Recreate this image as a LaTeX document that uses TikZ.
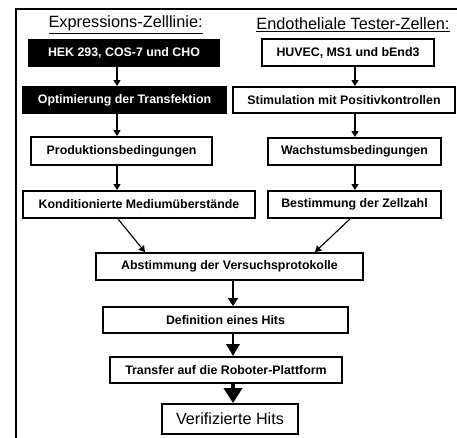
\documentclass[tikz,border=0pt]{standalone}
\usepackage{fontspec}
\setmainfont{Liberation Sans}
\usepackage{tikz}
\usetikzlibrary{arrows.meta, positioning, calc}

\begin{document}
\begin{tikzpicture}[
        step_box/.style={rectangle, draw, line width=1.3pt, inner sep=0pt, minimum height=0.675cm, font=\fontsize{8.8}{10}\selectfont\bfseries},
        dark_box/.style={step_box, fill=black, text=white},
        title_text/.style={font=\fontsize{11.6}{13}\selectfont},
        flow/.style={-{Triangle[length=4.3pt, width=5pt]}, line width=0.8pt, black},
        merge/.style={-{Triangle[length=5.7pt, width=7pt]}, line width=2.1pt, black},
        merge_big/.style={-{Triangle[length=8.5pt, width=9.2pt]}, line width=2.1pt, black},
        merge_huge/.style={-{Triangle[length=10.7pt, width=12.8pt]}, line width=2.8pt, black}
    ]
    \useasboundingbox (0,0) rectangle (11.425,10.95);

    % --- Frame ---
    \draw[line width=1.9pt] (0.4,0) -- (0.4,10.725) -- (11.6,10.725);

    % --- Left: Expression cell lines ---
    \node[title_text] (t_expr) at (3.14,10.325) {\underline{Expressions-Zelllinie:}};
    \node[dark_box, minimum width=4.75cm] (hek) at (3.1,9.625) {HEK 293, COS-7 und CHO};
    \node[dark_box, minimum width=5.075cm, minimum height=0.65cm] (transf) at (3.1125,8.45) {Optimierung der Transfektion};
    \node[step_box, minimum width=4.525cm, minimum height=0.7cm] (prod) at (3.04,7.175) {Produktionsbedingungen};
    \node[step_box, minimum width=5.8cm] (medium) at (3.475,5.8375) {Konditionierte Mediumüberstände};
    \coordinate (lcol) at (2.925,0);

    \draw[flow] (hek.south -| lcol) -- (transf.north -| lcol);
    \draw[flow] (transf.south -| lcol) -- (prod.north -| lcol);
    \draw[flow] (prod.south -| lcol) -- (medium.north -| lcol);

    % --- Right: Endothelial tester cells ---
    \node[title_text] (t_endo) at (8.825,10.325) {\underline{Endotheliale Tester-Zellen:}};
    \node[step_box, minimum width=4.3cm] (huvec) at (8.7,9.6375) {HUVEC, MS1 und bEnd3};
    \node[step_box, minimum width=5.55cm, minimum height=0.65cm] (stim) at (8.6,8.45) {Stimulation mit Positivkontrollen};
    \node[step_box, minimum width=4.325cm] (growth) at (8.8625,7.1625) {Wachstumsbedingungen};
    \node[step_box, minimum width=4.325cm] (count) at (8.8625,5.8375) {Bestimmung der Zellzahl};
    \coordinate (rcol) at (8.875,0);

    \draw[flow] (huvec.south -| rcol) -- (stim.north -| rcol);
    \draw[flow] (stim.south -| rcol) -- (growth.north -| rcol);
    \draw[flow] (growth.south -| rcol) -- (count.north -| rcol);

    % --- Bottom: common protocol ---
    \node[step_box, minimum width=6.675cm] (protocol) at (5.7375,4.2875) {Abstimmung der Versuchsprotokolle};
    \node[step_box, minimum width=6.125cm, minimum height=0.65cm] (hitdef) at (5.6375,2.95) {Definition eines Hits};
    \node[step_box, minimum width=5.8cm, minimum height=0.65cm] (robot) at (5.65,1.7) {Transfer auf die Roboter-Plattform};
    \node[step_box, minimum width=3.4cm, minimum height=0.75cm, font=\fontsize{11.5}{13}\selectfont] (hits) at (5.75,0.475) {Verifizierte Hits};
    \coordinate (ccol) at (5.825,0);

    \draw[flow] ($(medium.south -| lcol)+(0.025,0)$) -- (protocol.north -| 3.625,0);
    \draw[flow] (count.south -| 8.75,0) -- (protocol.north -| 7.875,0);
    \draw[merge] (protocol.south -| ccol) -- (hitdef.north -| ccol);
    \draw[merge_big] (hitdef.south -| ccol) -- (robot.north -| ccol);
    \draw[merge_huge] (robot.south -| ccol) -- (hits.north -| ccol);

\end{tikzpicture}
\end{document}
